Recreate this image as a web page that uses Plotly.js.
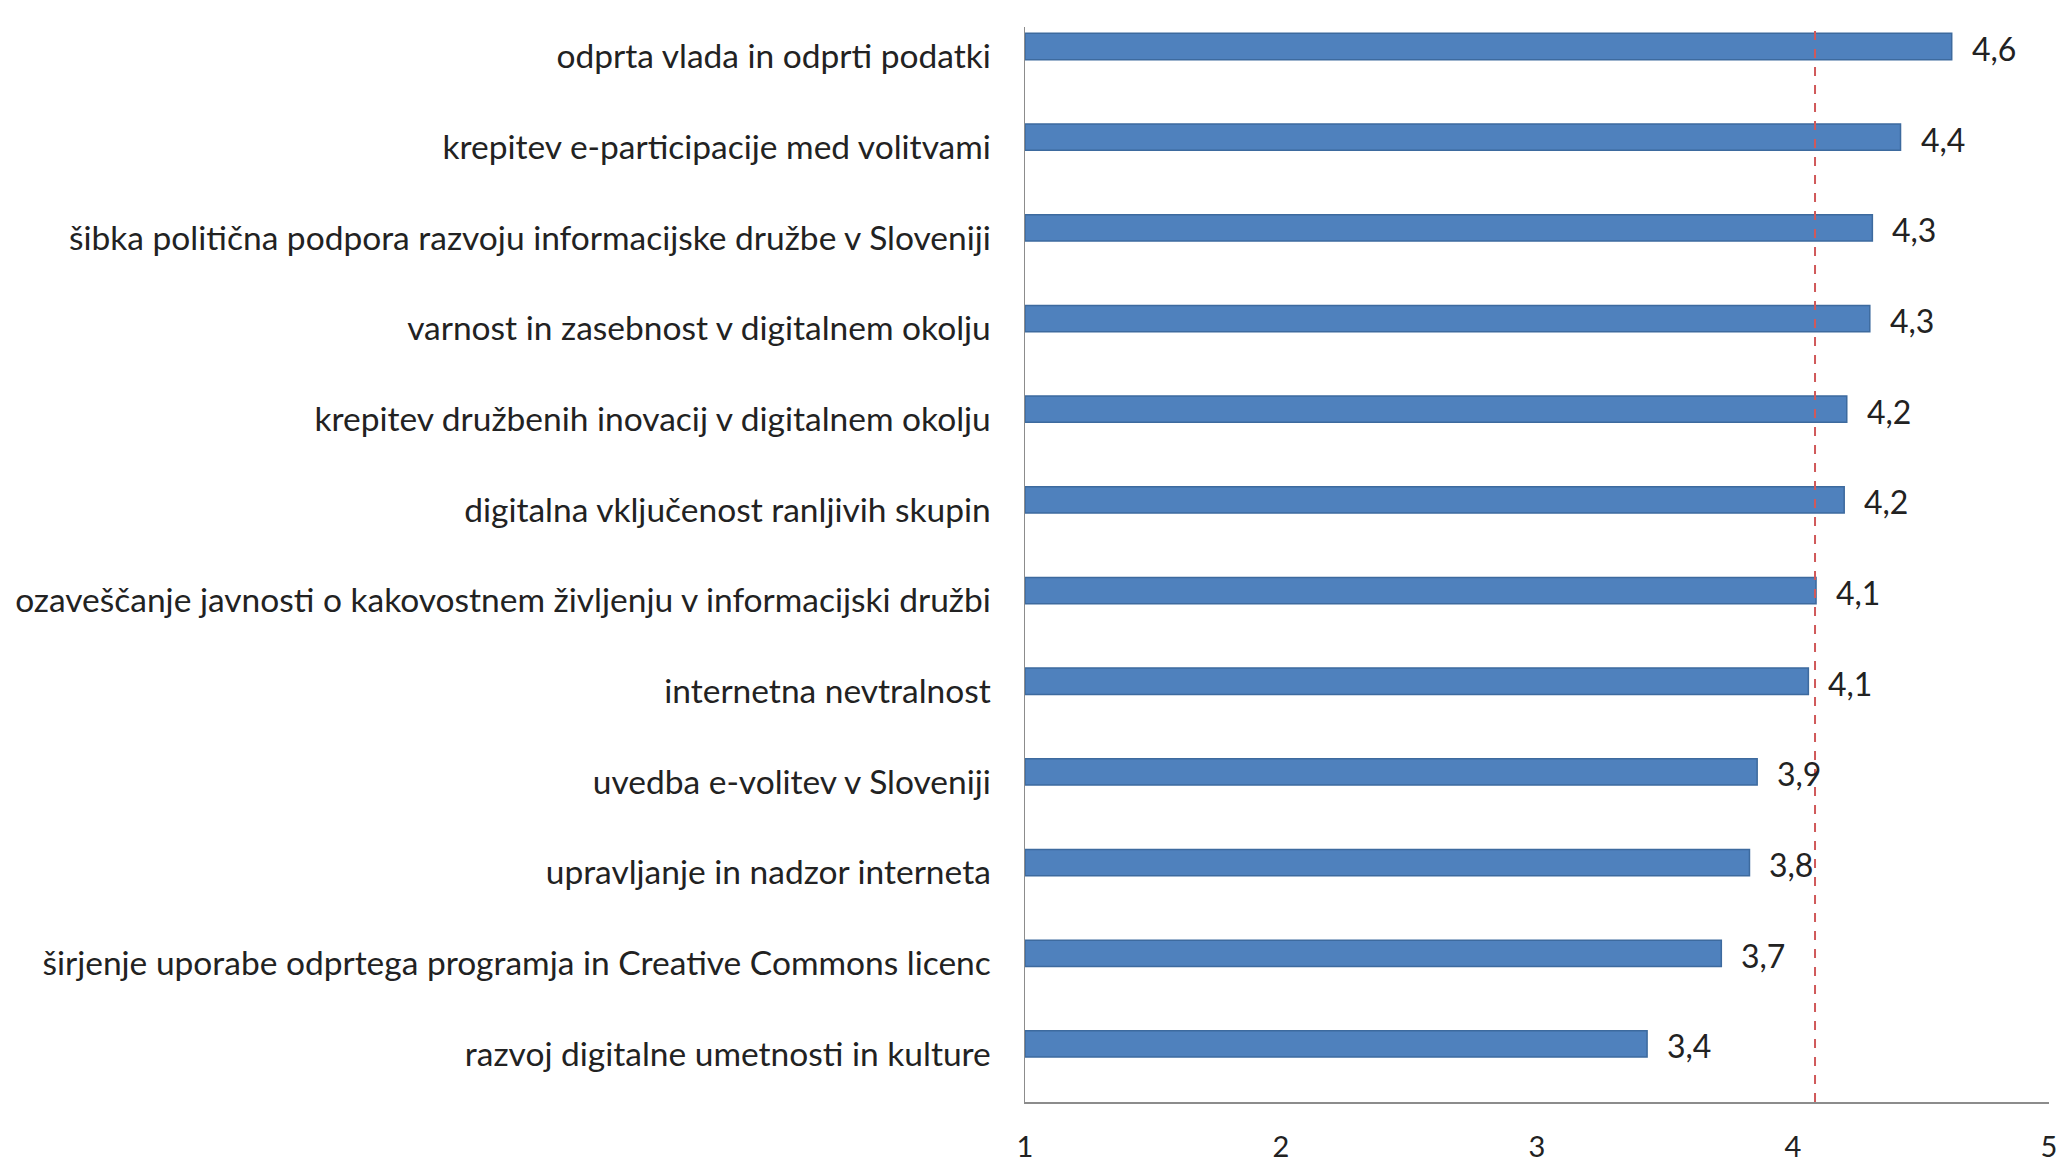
<!DOCTYPE html>
<html>
<head>
<meta charset="utf-8">
<script src="https://cdn.plot.ly/plotly-3.0.1.min.js"></script>
<style>
html,body{margin:0;padding:0;background:#fff;}
#chart{width:2058px;height:1162px;}
</style>
</head>
<body>
<div id="chart"></div>
<script>
// Categories, top to bottom
const categories = [
  "odprta vlada in odprti podatki",
  "krepitev e-participacije med volitvami",
  "šibka politična podpora razvoju informacijske družbe v Sloveniji",
  "varnost in zasebnost v digitalnem okolju",
  "krepitev družbenih inovacij v digitalnem okolju",
  "digitalna vključenost ranljivih skupin",
  "ozaveščanje javnosti o kakovostnem življenju v informacijski družbi",
  "internetna nevtralnost",
  "uvedba e-volitev v Sloveniji",
  "upravljanje in nadzor interneta",
  "širjenje uporabe odprtega programja in Creative Commons licenc",
  "razvoj digitalne umetnosti in kulture"
];
const values = [4.62, 4.42, 4.31, 4.30, 4.21, 4.20, 4.09, 4.06, 3.86, 3.83, 3.72, 3.43];
const meanValue = 4.086;
const xTicks = [1, 2, 3, 4, 5];

const bar = {
  type: 'bar',
  orientation: 'h',
  y: categories,
  x: values.map(v => v - 1),
  base: 1,
  width: 0.29,
  marker: {color: '#4F81BD', line: {color: '#3D6A9E', width: 1.5}},
  hoverinfo: 'skip'
};

const annotations = categories.map((c, i) => ({
  x: values[i], y: c, xref: 'x', yref: 'y',
  text: values[i].toFixed(1).replace('.', ','),
  showarrow: false, xanchor: 'left', yanchor: 'middle',
  xshift: 18, yshift: -2,
  font: {family: 'Lato, sans-serif', size: 32, color: '#222'}
}));

const layout = {
  width: 2058, height: 1162,
  margin: {l: 1025, r: 9, t: 27, b: 60, pad: 0},
  paper_bgcolor: '#fff', plot_bgcolor: '#fff',
  showlegend: false,
  bargap: 0,
  xaxis: {
    range: [1, 5], tickvals: xTicks, ticktext: xTicks.map(String),
    showgrid: false, zeroline: false, showline: true, linecolor: '#8c8c8c', linewidth: 1.5,
    ticks: '', ticklabelstandoff: 19,
    tickfont: {family: 'Lato, sans-serif', size: 29, color: '#222'}
  },
  yaxis: {
    type: 'category', categoryorder: 'array', categoryarray: categories,
    range: [11.64, -0.215],
    showgrid: false, zeroline: false, showline: true, linecolor: '#8c8c8c', linewidth: 1.5,
    ticks: '', ticklabelstandoff: 26, ticklabelshift: -10,
    tickfont: {family: 'Lato, sans-serif', size: 33.5, color: '#222'}
  },
  shapes: [{
    type: 'line', xref: 'x', yref: 'paper', x0: meanValue, x1: meanValue, y0: 0, y1: 1,
    line: {color: '#D0595A', width: 2, dash: 'dash'}
  }],
  annotations: annotations
};

Plotly.newPlot('chart', [bar], layout, {displayModeBar: false, staticPlot: true});
</script>
</body>
</html>
